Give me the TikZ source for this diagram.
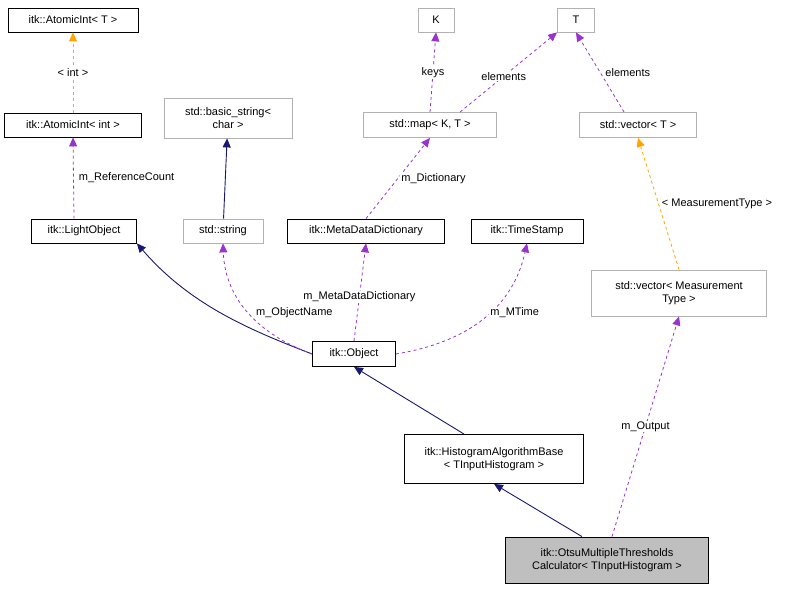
\documentclass[tikz,border=0pt]{standalone}
\usepackage{fontspec}
\setmainfont{Liberation Sans}
\usetikzlibrary{arrows.meta}
\definecolor{navy}{HTML}{191970}
\definecolor{member}{HTML}{9A32CD}
\definecolor{templ}{HTML}{FFA500}
\tikzset{>={Triangle[length=9pt,width=8pt]}}
\tikzset{
    cls/.style={draw=black,fill=white,font=\fontsize{11}{13}\selectfont,align=center,inner sep=2pt,line width=0.8pt},
    ext/.style={cls,draw=gray!60},
    inherit/.style={->,draw=navy,line width=0.9pt},
    usage/.style={->,draw=member,dashed,line width=0.8pt},
    tmpl/.style={->,draw=templ,dashed,line width=0.8pt},
    lbl/.style={font=\fontsize{11}{13}\selectfont,fill=white,inner sep=1pt}
}
\begin{document}
\begin{tikzpicture}[x=1pt,y=-1pt]
    \useasboundingbox (0,0) rectangle (797,589);
    \node[cls,minimum width=130,minimum height=24] at (73,20) (atomicT) {itk::AtomicInt< T >};
    \node[cls,minimum width=137,minimum height=24] at (73,125) (atomicInt) {itk::AtomicInt< int >};
    \node[cls,minimum width=105,minimum height=24] at (84,231) (lightObject) {itk::LightObject};
    \node[ext,minimum width=128,minimum height=40] at (228,118) (basicString) {std::basic\_string<\\char >};
    \node[ext,minimum width=80,minimum height=24] at (223,231) (stdString) {std::string};
    \node[cls,minimum width=157,minimum height=24] at (366,231) (metaDict) {itk::MetaDataDictionary};
    \node[cls,minimum width=112,minimum height=24] at (527,231) (timeStamp) {itk::TimeStamp};
    \node[ext,minimum width=36,minimum height=24] at (436,20) (keyK) {K};
    \node[ext,minimum width=37,minimum height=24] at (576,20) (valT) {T};
    \node[ext,minimum width=133,minimum height=25] at (430,125) (stdMap) {std::map< K, T >};
    \node[ext,minimum width=117,minimum height=25] at (638,125) (vectorT) {std::vector< T >};
    \node[ext,minimum width=175,minimum height=46] at (679,293) (vectorMT) {std::vector< Measurement\\Type >};
    \node[cls,minimum width=83,minimum height=25] at (354,354) (object) {itk::Object};
    \node[cls,minimum width=179,minimum height=49] at (494,459) (histBase) {itk::HistogramAlgorithmBase\\< TInputHistogram >};
    \node[cls,fill=gray!50,minimum width=203,minimum height=46] at (607,560) (otsu) {itk::OtsuMultipleThresholds\\Calculator< TInputHistogram >};

    \draw[tmpl] (atomicInt) -- node[lbl] {< int >} (atomicT);
    \draw[usage] (lightObject.north) ++(-10,0) -- node[lbl,right,xshift=4pt] {m\_ReferenceCount} (atomicInt.south);
    \draw[inherit] (stdString) -- (basicString);
    \draw[inherit] (object.west) .. controls (250,330) and (190,305) .. (lightObject.south east);
    \draw[usage] (object.west) .. controls (260,335) and (225,300) .. node[lbl,pos=0.5,right,xshift=6pt] {m\_ObjectName} (stdString.south);
    \draw[usage] (object.north) -- node[lbl,pos=0.45] {m\_MetaDataDictionary} (metaDict.south);
    \draw[usage] (object.east) .. controls (450,345) and (510,320) .. node[lbl,pos=0.6,right] {m\_MTime} (timeStamp.south);
    \draw[usage] (metaDict.north) -- node[lbl,right,xshift=2pt] {m\_Dictionary} (stdMap.south);
    \draw[usage] (stdMap.north) -- node[lbl] {keys} (keyK.south);
    \draw[usage] (stdMap.north) ++(30,0) -- node[lbl,pos=0.45] {elements} (valT.south west);
    \draw[usage] (vectorT.north west) ++(45,0) -- node[lbl,right,xshift=4pt] {elements} (valT.south);
    \draw[tmpl] (vectorMT.north) -- node[lbl,right,xshift=2pt] {< MeasurementType >} (vectorT.south);
    \draw[inherit] (histBase.north west) ++(60,0) -- (object.south);
    \draw[inherit] (otsu.north) ++(-25,0) -- (histBase.south);
    \draw[usage] (otsu.north) ++(5,0) -- node[lbl] {m\_Output} (vectorMT.south);
\end{tikzpicture}
\end{document}
